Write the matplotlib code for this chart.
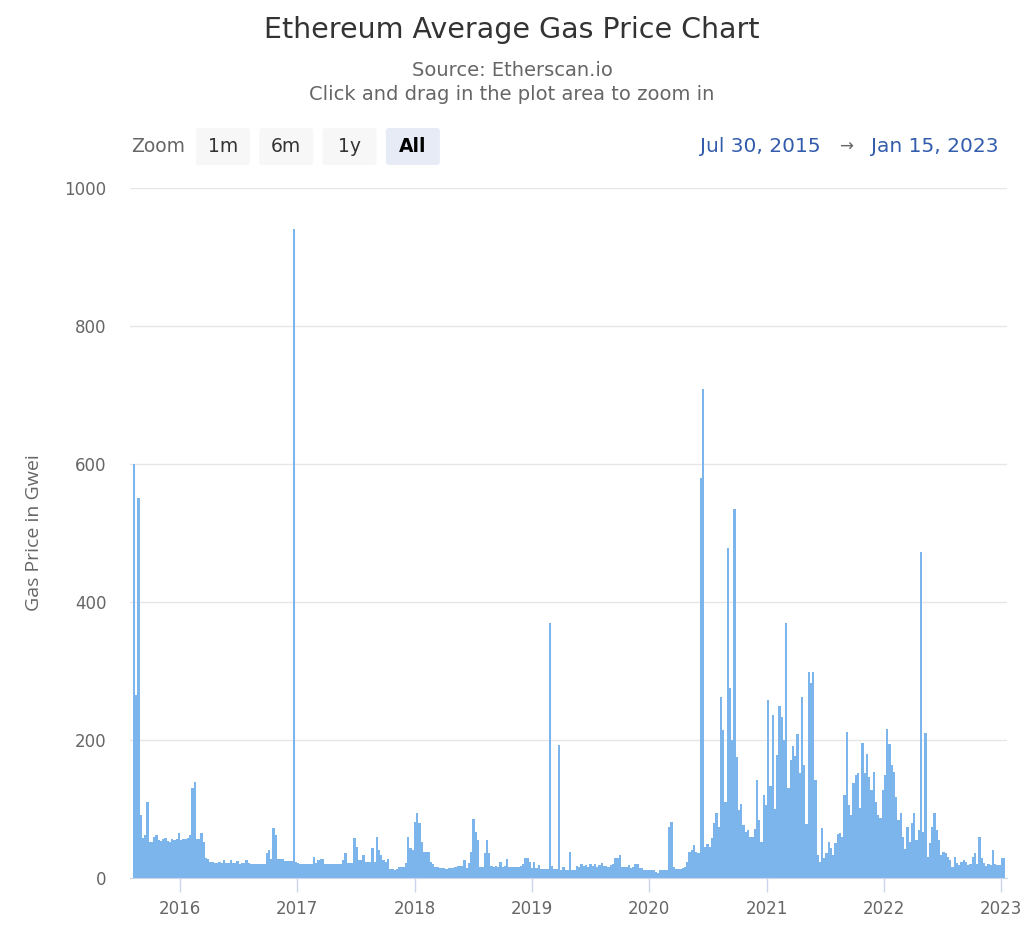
#!/usr/bin/env python

import numpy as np
import matplotlib
matplotlib.use("Agg")
import matplotlib.pyplot as plt
import matplotlib.dates as mdates
from matplotlib.patches import FancyBboxPatch


# weekly average gas price (Gwei), first week starts 2015-08-08
gas_wk_000 = [600, 265, 550, 91, 58, 62, 110, 52, 52, 60,
              62, 55, 53, 56, 58, 54, 52, 56, 55, 57,
              65, 55, 56, 57, 58, 62, 130, 139, 56, 56,
              65, 52, 29, 28, 23, 23, 22, 22, 23, 22,
              26, 22, 22, 26, 22, 22, 25, 21, 22, 22]
gas_wk_050 = [26, 22, 21, 21, 20, 20, 20, 20, 21, 36,
              40, 27, 72, 62, 27, 27, 28, 25, 25, 25,
              25, 940, 23, 22, 20, 20, 20, 20, 20, 21,
              30, 22, 26, 27, 27, 20, 20, 20, 20, 20,
              20, 20, 20, 26, 36, 22, 22, 22, 58, 45]
gas_wk_100 = [26, 26, 33, 23, 23, 23, 43, 23, 60, 40,
              33, 26, 23, 28, 13, 13, 12, 13, 16, 16,
              16, 22, 60, 43, 41, 81, 94, 80, 52, 38,
              38, 38, 23, 21, 16, 16, 14, 15, 14, 13,
              14, 15, 14, 16, 17, 17, 17, 26, 14, 22]
gas_wk_150 = [38, 85, 67, 55, 16, 16, 36, 55, 36, 18,
              16, 17, 16, 23, 16, 17, 28, 16, 16, 16,
              16, 16, 17, 20, 29, 29, 23, 14, 23, 14,
              19, 13, 13, 13, 13, 370, 18, 13, 13, 193,
              12, 16, 12, 12, 38, 12, 12, 17, 16, 20]
gas_wk_200 = [18, 19, 16, 20, 17, 20, 16, 19, 22, 18,
              17, 16, 19, 20, 29, 29, 33, 16, 16, 16,
              19, 15, 16, 20, 20, 14, 14, 12, 12, 12,
              12, 12, 8, 7, 12, 12, 12, 12, 74, 81,
              16, 13, 13, 13, 14, 16, 23, 38, 40, 48]
gas_wk_250 = [38, 36, 580, 708, 45, 49, 45, 58, 80, 94,
              74, 262, 214, 110, 478, 275, 200, 535, 175, 99,
              107, 77, 67, 70, 60, 60, 71, 142, 84, 52,
              120, 106, 258, 134, 236, 100, 178, 250, 233, 200,
              370, 130, 171, 191, 177, 209, 152, 262, 164, 78]
gas_wk_300 = [298, 283, 298, 142, 33, 23, 72, 29, 36, 52,
              43, 33, 51, 64, 65, 60, 120, 212, 106, 91,
              137, 149, 152, 101, 196, 152, 180, 146, 128, 154,
              110, 91, 87, 128, 149, 216, 194, 164, 154, 117,
              84, 94, 60, 42, 74, 52, 80, 94, 55, 70]
gas_wk_350 = [473, 67, 210, 30, 51, 74, 94, 70, 55, 33,
              38, 36, 30, 26, 16, 30, 22, 19, 23, 26,
              23, 19, 20, 30, 36, 20, 60, 29, 22, 17,
              20, 19, 40, 20, 19, 19, 29, 29]

first_week = "2015-08-08"
range_start = "Jul 30, 2015"
range_end = "Jan 15, 2023"
year_ticks = [2016, 2017, 2018, 2019, 2020, 2021, 2022, 2023]
zoom_buttons = ["1m", "6m", "1y", "All"]

BAR = "#7cb5ec"
GREY = "#666666"


def main():
    gas = np.array(gas_wk_000 + gas_wk_050 + gas_wk_100 + gas_wk_150 +
                   gas_wk_200 + gas_wk_250 + gas_wk_300 + gas_wk_350)
    weeks = np.datetime64(first_week) + np.arange(len(gas)) * np.timedelta64(7, "D")
    weeks = weeks.astype("datetime64[D]").astype(object)

    fig = plt.figure(figsize=(10.24, 9.39), dpi=100)
    ax = fig.add_axes([130 / 1024, 1 - 878 / 939, 877 / 1024, 690 / 939])

    ax.bar(weeks, gas, width=7, align="edge", color=BAR, linewidth=0)

    ax.set_ylim(0, 1000)
    ax.set_yticks(range(0, 1001, 200))
    ax.set_xlim(np.datetime64("2015-07-30").astype(object),
                np.datetime64("2023-01-19").astype(object))
    ax.set_xticks([np.datetime64(f"{y}-01-01").astype(object) for y in year_ticks])
    ax.xaxis.set_major_formatter(mdates.DateFormatter("%Y"))

    ax.grid(axis="y", color="#e6e6e6", linewidth=1)
    ax.set_axisbelow(True)
    for side in ["top", "right", "left"]:
        ax.spines[side].set_visible(False)
    ax.spines["bottom"].set_color("#ccd6eb")
    ax.tick_params(axis="x", colors="#ccd6eb", length=10, width=1, pad=6,
                   labelcolor=GREY, labelsize=12)
    ax.tick_params(axis="y", length=0, pad=17, labelcolor=GREY, labelsize=12)

    ax.set_ylabel("Gas Price in Gwei", color=GREY, fontsize=14, labelpad=15,
                  family="Open Sans")

    fig.text(0.5, 1 - 30 / 939, "Ethereum Average Gas Price Chart", ha="center",
             va="center", fontsize=20.5, color="#333333")
    fig.text(0.5, 1 - 70 / 939, "Source: Etherscan.io", ha="center", va="center",
             fontsize=14, color=GREY)
    fig.text(0.5, 1 - 95 / 939, "Click and drag in the plot area to zoom in",
             ha="center", va="center", fontsize=14, color=GREY)

    # range selector
    row_y = 1 - 147 / 939
    fig.text(131 / 1024, row_y, "Zoom", ha="left", va="center", fontsize=13.5,
             color=GREY)
    for k, label in enumerate(zoom_buttons):
        left = 196 + k * 63.3
        selected = label == "All"
        fig.patches.append(FancyBboxPatch(
            (left / 1024, 1 - 165 / 939), 54 / 1024, 37 / 939,
            boxstyle="round,pad=0,rounding_size=0.003",
            transform=fig.transFigure, facecolor="#e6ebf5" if selected else "#f7f7f7",
            edgecolor="none"))
        fig.text((left + 27) / 1024, row_y, label, ha="center", va="center",
                 fontsize=13.5, color="#000000" if selected else "#333333",
                 fontweight="bold" if selected else "normal")

    fig.text(821 / 1024, row_y, range_start, ha="right", va="center",
             fontsize=14.5, color="#335cad")
    fig.text(846 / 1024, row_y, "\u2192", ha="center", va="center",
             fontsize=12, color=GREY)
    fig.text(998 / 1024, row_y, range_end, ha="right", va="center",
             fontsize=14.5, color="#335cad")

    fig.savefig("out.png", dpi=100)


if __name__ == '__main__':
    main()
